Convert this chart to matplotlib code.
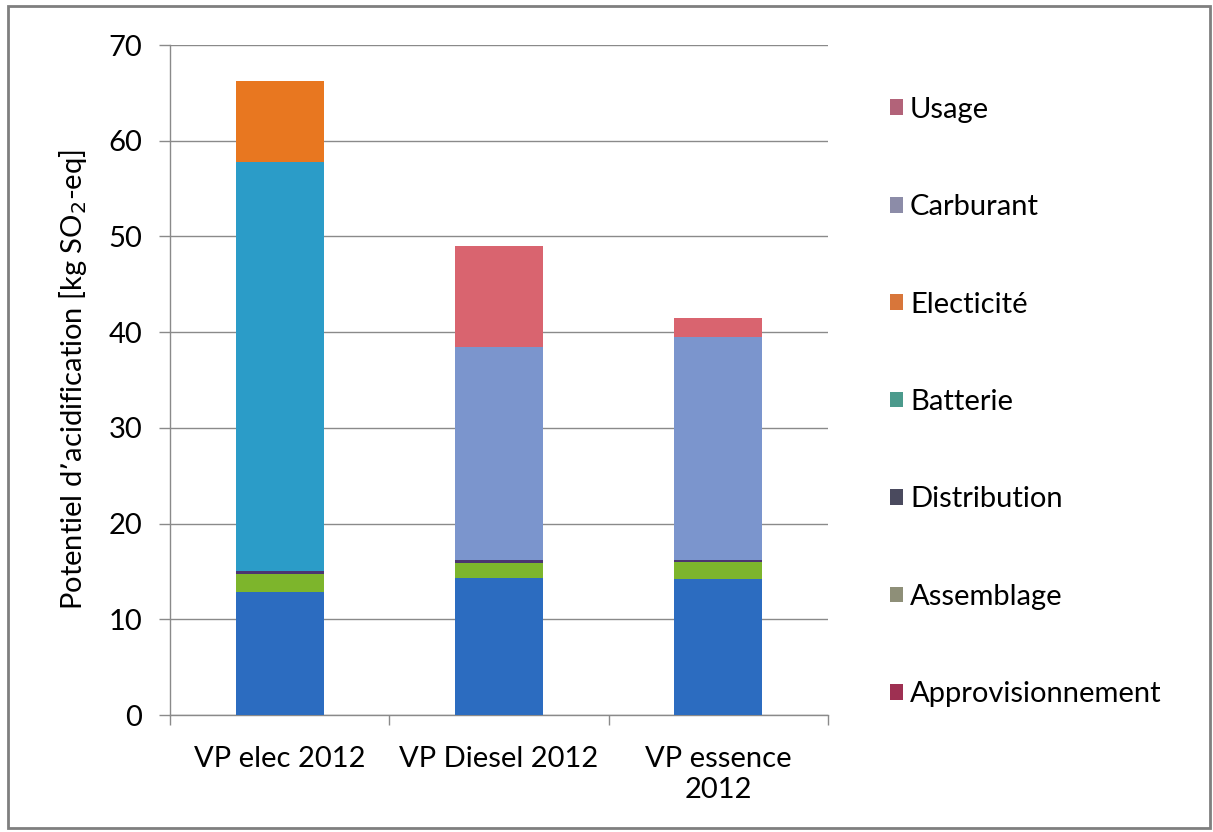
import matplotlib
matplotlib.use("Agg")
import matplotlib.pyplot as plt
from matplotlib.patches import Patch, Rectangle
import numpy as np

plt.rcParams['font.family'] = ['Lato', 'DejaVu Sans']

categories = ["VP elec 2012", "VP Diesel 2012", "VP essence\n2012"]
series_names = ["Approvisionnement", "Assemblage", "Distribution", "Batterie",
                "Electicité", "Carburant", "Usage"]
approvisionnement = [12.9, 14.3, 14.2]
assemblage = [1.8, 1.6, 1.8]
distribution = [0.3, 0.3, 0.2]
batterie = [42.8, 0.0, 0.0]
electricite = [8.4, 0.0, 0.0]
carburant = [0.0, 22.3, 23.3]
usage = [0.0, 10.5, 2.0]
yticks = [0, 10, 20, 30, 40, 50, 60, 70]

series = [approvisionnement, assemblage, distribution, batterie, electricite, carburant, usage]
bar_colors = ["#2c6cc0", "#7db52c", "#4b3570", "#2b9cc8", "#e87720", "#7b95cd", "#d9646f"]
legend_colors = ["#9e3052", "#8e8f78", "#4a4a5e", "#4b9a8c", "#d8763a", "#8c8ca8", "#b26379"]

FS = 21

fig = plt.figure(figsize=(12.13, 8.32), dpi=100)
ax = fig.add_axes([170/1213, 1-715/832, (828-170)/1213, (715-45)/832])

x = np.arange(len(categories))
bottom = np.zeros(len(categories))
for vals, col, name in zip(series, bar_colors, series_names):
    v = np.array(vals)
    ax.bar(x, v, width=0.4, bottom=bottom, color=col, edgecolor='none', label=name, zorder=3)
    bottom += v

ax.set_xlim(-0.5, len(categories) - 0.5)
ax.set_ylim(0, 70)
ax.set_yticks(yticks)
ax.set_yticklabels([str(t) for t in yticks])
ax.yaxis.grid(True, color="#8a8a8a", linewidth=1.0, zorder=0)
ax.set_axisbelow(True)
ax.set_xticks(x)
ax.set_xticklabels(categories, fontsize=FS, linespacing=1.25)
ax.set_xticks(np.arange(len(categories) + 1) - 0.5, minor=True)
ax.tick_params(axis='x', which='major', length=0, pad=22)
ax.tick_params(axis='x', which='minor', length=7, color="#8a8a8a", width=1)
ax.tick_params(axis='y', length=8, color="#8a8a8a", width=1, labelsize=FS, pad=12)
for s in ['top', 'right']:
    ax.spines[s].set_visible(False)
for s in ['left', 'bottom']:
    ax.spines[s].set_color("#8a8a8a")
    ax.spines[s].set_linewidth(1.0)
ax.set_ylabel("Potentiel d’acidification [kg SO$_2$-eq]", fontsize=FS, labelpad=14)

handles = [Patch(facecolor=c, edgecolor='none') for c in legend_colors]
leg = fig.legend(handles[::-1], series_names[::-1], loc='upper left',
                 bbox_to_anchor=(878/1213, 1-85/832), frameon=False,
                 fontsize=FS, handlelength=0.45, handleheight=0.45,
                 handletextpad=0.25, labelspacing=2.45, borderaxespad=0)

fig.patches.append(Rectangle((8/1213, 4/832), 1202/1213, 822/832, transform=fig.transFigure,
                             fill=False, edgecolor="#7f7f7f", linewidth=2))

fig.savefig("out.png", dpi=100)
